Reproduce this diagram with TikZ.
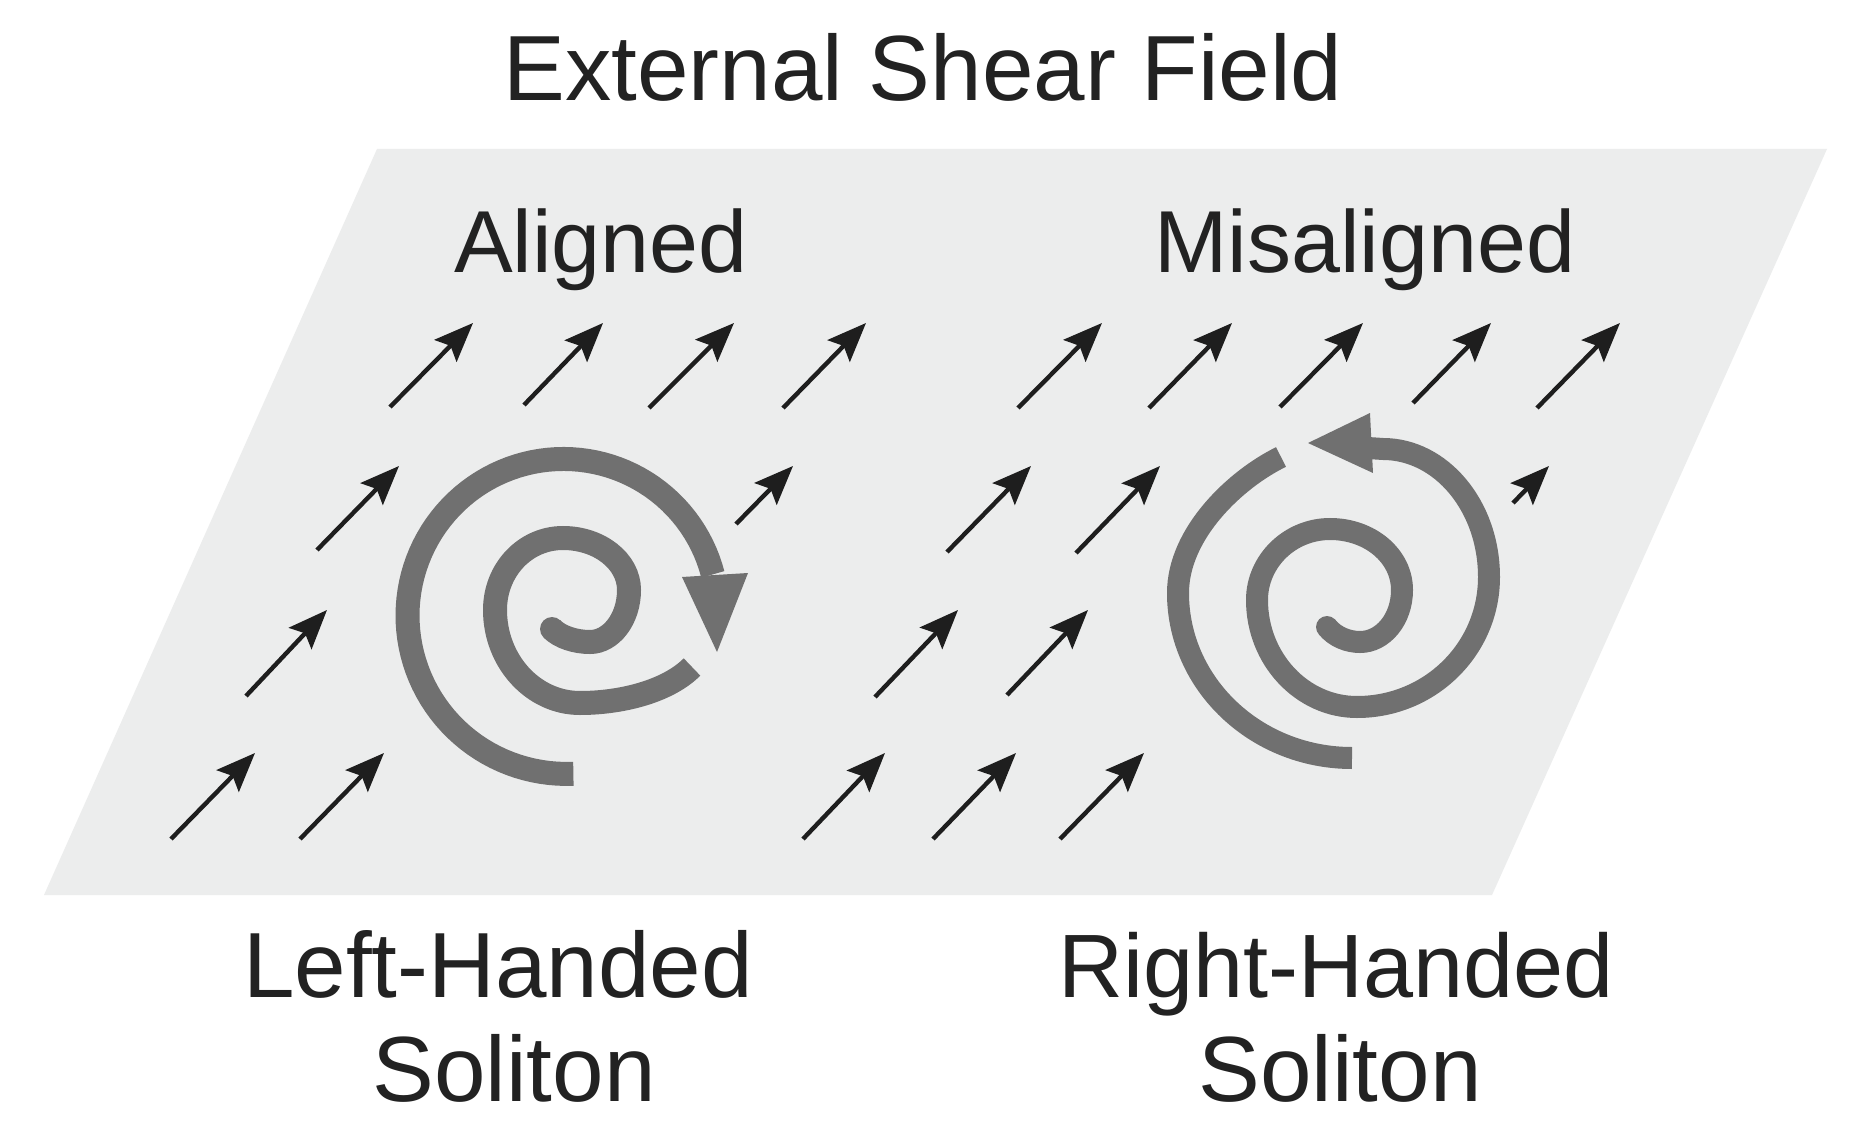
\documentclass[tikz,border=0pt]{standalone}
\usepackage{fontspec}
\newfontfamily\labfont{Liberation Sans}
\usetikzlibrary{arrows.meta}
\definecolor{panelbg}{RGB}{236,237,237}
\definecolor{spiralc}{RGB}{112,112,112}
\definecolor{arrowc}{RGB}{30,30,30}
\definecolor{textc}{RGB}{34,34,34}
\tikzset{
  fieldarrow/.style={draw=arrowc, line width=2.2pt, -{Stealth[length=19.5pt,width=15.5pt,inset=3.5pt]}},
  spiralL/.style={draw=spiralc, line width=12pt},
  spiralR/.style={draw=spiralc, line width=11pt},
  headfill/.style={fill=spiralc, draw=none},
  bigtext/.style={font=\labfont\fontsize{46.3pt}{55pt}\selectfont, text=textc, inner sep=0pt, anchor=base},
  rhtext/.style={font=\labfont\fontsize{45pt}{54pt}\selectfont, text=textc, inner sep=0pt, anchor=base},
  midtext/.style={font=\labfont\fontsize{44pt}{53pt}\selectfont, text=textc, inner sep=0pt, anchor=base},
}
\begin{document}
\begin{tikzpicture}[x=0.5pt, y=-0.5pt]
\useasboundingbox (0,0) rectangle (1860,1145);
\fill[white] (0,0) rectangle (1860,1145);
% panel
\fill[panelbg] (377,149) -- (1827,149) -- (1492,895) -- (44,895) -- cycle;
% texts
\node[bigtext] (title) at (923,101) {External Shear Field};
\node[midtext] (aligned) at (601,272) {Aligned};
\node[midtext] (misaligned) at (1365,272) {Misaligned};
\node[bigtext] (lefth) at (498,997) {Left-Handed};
\node[bigtext] (lefts) at (514,1101) {Soliton};
\node[rhtext] (righth) at (1336,997) {Right-Handed};
\node[bigtext] (rights) at (1340,1101) {Soliton};
% field arrows
\foreach \ax/\ay/\bx/\by in {
  390/407/473/323, 524/405/603/323, 649/408/734/323, 783/408/866/323,
  1018/408/1102/323, 1149/408/1232/323, 1280/407/1363/323, 1413/403/1491/323, 1537/408/1620/323,
  317/550/399/466, 736/524/793/466, 947/552/1031/466, 1076/553/1160/466, 1513/503/1549/466,
  246/696/327/610, 875/697/958/610, 1007/695/1088/610,
  171/839/255/753, 300/839/384/753, 803/839/885/753, 933/839/1016/753, 1060/839/1144/753}
  \draw[fieldarrow] (\ax,\ay) -- (\bx,\by);
% left spiral: outer arc with head
\draw[spiralL] plot[domain=87:345, samples=90, variable=\t]
  ({565+(160-7*(\t-87)/258)*cos(\t)}, {614+(160-7*(\t-87)/258)*sin(\t)});
\fill[headfill] (682,577) -- (748,573) -- (717,652) -- cycle;
% left spiral: inner part (clockwise inward)
\draw[spiralL] (692,667) .. controls (667,692) and (620,703) .. (580,703)
  .. controls (533,703) and (495,661) .. (495,610)
  .. controls (495,570) and (525,538) .. (563,538)
  .. controls (599,538) and (629,561) .. (629,590)
  .. controls (629,619) and (611,642) .. (590,642)
  .. controls (575,642) and (560,637) .. (552,629);
\fill[spiralc] (552,629) circle[radius=12];
% right spiral: inner part with head (counterclockwise outward)
\draw[spiralR] (1327,627) .. controls (1335,637) and (1348,642) .. (1360,642)
  .. controls (1383,642) and (1402,619) .. (1402,590)
  .. controls (1402,556) and (1370,529) .. (1330,529)
  .. controls (1290,529) and (1257,561) .. (1257,600)
  .. controls (1257,659) and (1302,707) .. (1357,707)
  .. controls (1430,707) and (1489,649) .. (1489,577)
  .. controls (1489,506) and (1441,449) .. (1383,449)
  -- (1368,448);
\fill[spiralc] (1327,627) circle[radius=11];
\fill[headfill] (1370,413) -- (1373,473) -- (1308,443) -- cycle;
% right spiral: outer arc
\draw[spiralR] (1281,457) .. controls (1236,479) and (1178,533) .. (1178,593)
  .. controls (1178,684) and (1256,758) .. (1352,758);
\end{tikzpicture}
\end{document}
